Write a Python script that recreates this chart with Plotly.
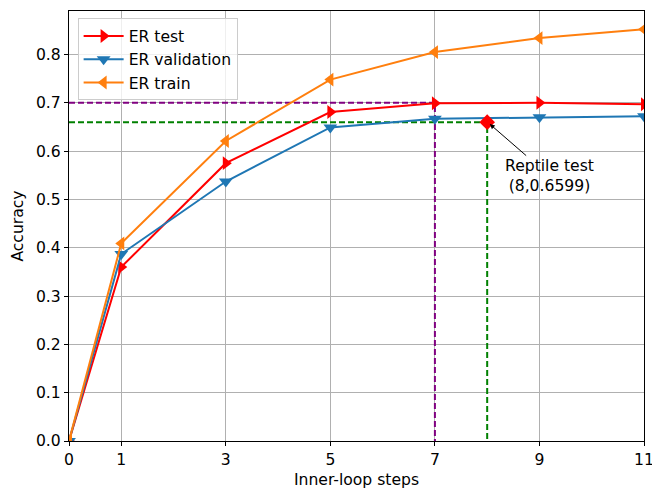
import plotly.graph_objects as go

steps = [0, 1, 3, 5, 7, 9, 11]
er_test = [0.0, 0.360, 0.575, 0.681, 0.699, 0.700, 0.697]
er_val = [0.0, 0.387, 0.537, 0.649, 0.667, 0.670, 0.672]
er_train = [0.0, 0.409, 0.621, 0.748, 0.805, 0.834, 0.852]
best_er_x, best_er_y = 7, 0.700
reptile_x, reptile_y = 8, 0.6599
xticks = [0, 1, 3, 5, 7, 9, 11]

FONT = "DejaVu Sans"
FS = 15.6
MS = 12
fig = go.Figure()

# guide lines
fig.add_trace(go.Scatter(x=[0, best_er_x, best_er_x], y=[best_er_y, best_er_y, 0], mode="lines",
                         line=dict(color="purple", width=2, dash="6px,3px"), showlegend=False, hoverinfo="skip"))
fig.add_trace(go.Scatter(x=[0, reptile_x, reptile_x], y=[reptile_y, reptile_y, 0], mode="lines",
                         line=dict(color="green", width=2, dash="6px,3px"), showlegend=False, hoverinfo="skip"))

fig.add_trace(go.Scatter(x=steps, y=er_test, name="ER test", mode="lines+markers",
                         line=dict(color="red", width=2),
                         marker=dict(symbol="triangle-right", size=MS, color="red")))
fig.add_trace(go.Scatter(x=steps, y=er_val, name="ER validation", mode="lines+markers",
                         line=dict(color="#1f77b4", width=2),
                         marker=dict(symbol="triangle-down", size=MS, color="#1f77b4")))
fig.add_trace(go.Scatter(x=steps, y=er_train, name="ER train", mode="lines+markers",
                         line=dict(color="#ff7f0e", width=2),
                         marker=dict(symbol="triangle-left", size=MS, color="#ff7f0e")))

fig.add_trace(go.Scatter(x=[reptile_x], y=[reptile_y], mode="markers", showlegend=False,
                         marker=dict(symbol="diamond", size=MS, color="red")))

fig.add_annotation(x=reptile_x + 0.05, y=reptile_y - 0.004, xref="x", yref="y",
                   text="Reptile test<br>(8,0.6599)", showarrow=True,
                   ax=60, ay=52, arrowhead=2, arrowsize=1, arrowwidth=1, arrowcolor="black",
                   font=dict(family=FONT, size=FS, color="black"), align="center")

axis_common = dict(showline=True, linecolor="black", linewidth=1.2, mirror=True,
                   ticks="outside", ticklen=4, tickcolor="black",
                   showgrid=True, gridcolor="#b0b0b0", gridwidth=1, zeroline=False,
                   ticklabeloverflow="allow",
                   tickfont=dict(family=FONT, size=FS, color="black"))

fig.update_layout(
    width=652, height=489,
    margin=dict(l=69, r=8, t=11, b=48, autoexpand=False),
    paper_bgcolor="white", plot_bgcolor="white",
    font=dict(family=FONT, size=FS, color="black"),
    xaxis=dict(range=[0, 11], tickvals=xticks, ticktext=[str(t) for t in xticks],
               title=dict(text="Inner-loop steps", font=dict(family=FONT, size=FS), standoff=6),
               **axis_common),
    yaxis=dict(range=[0, 0.89], dtick=0.1, tickformat=".1f",
               title=dict(text="Accuracy", font=dict(family=FONT, size=FS), standoff=8),
               **axis_common),
    legend=dict(x=0.015, y=0.983, xanchor="left", yanchor="top",
                bgcolor="rgba(255,255,255,0.8)", bordercolor="#cccccc", borderwidth=1,
                itemwidth=40,
                font=dict(family=FONT, size=FS)),
    showlegend=True,
)

fig.write_html("out.html", config={"displayModeBar": False},
               post_script="document.body.style.margin='0';")
